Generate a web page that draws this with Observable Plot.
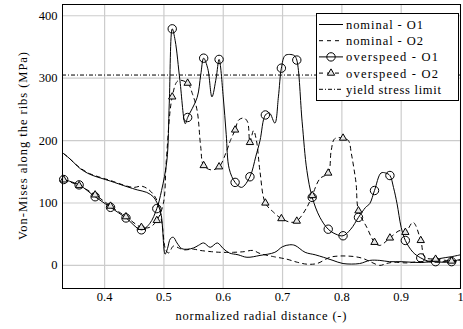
<!DOCTYPE html>
<html><head><meta charset="utf-8">
<script src="https://cdn.jsdelivr.net/npm/d3@7"></script>
<script src="https://cdn.jsdelivr.net/npm/@observablehq/plot@0.6"></script>
<style>body{margin:0;background:#fff}</style>
</head><body><div id="chart"></div>
<script>
// nominal - O1
const nomO1X = [0.331,0.340,0.350,0.359,0.375,0.393,0.410,0.438,0.455,0.471,0.482,0.488,0.495,0.502,0.506,0.511,0.516,0.522,0.530,0.540,0.550,0.558,0.567,0.578,0.590,0.600,0.610,0.625,0.640,0.662,0.687,0.700,0.712,0.721,0.738,0.755,0.769,0.785,0.802,0.830,0.847,0.864,0.880,0.900,0.920,0.940,0.965,0.985,1.0];
const nomO1Y = [179,172,163,155,146,140,135,126,121,117,110,101,83,18,27,43,45,36,27,26,28,32,36,29,36,27,20,17,13,16,21,30,33,32,21,17,13,8,3,3,8,8,6,6,5,5,11,14,17];
// nominal - O2
const nomO2X = [0.331,0.340,0.350,0.359,0.375,0.393,0.410,0.438,0.450,0.462,0.472,0.482,0.490,0.497,0.503,0.508,0.516,0.525,0.533,0.550,0.561,0.580,0.595,0.617,0.635,0.650,0.662,0.685,0.707,0.725,0.741,0.758,0.780,0.795,0.808,0.822,0.836,0.850,0.864,0.875,0.887,0.910,0.930,0.960,0.980,1.0];
const nomO2Y = [179,172,163,156,147,141,136,127,125,127,123,114,100,65,25,20,31,28,25,26,24,22,21,21,22,24,19,14,10,5,2,3,13,15,15,14,11,5,0,3,5,4,6,5,7,8];
// overspeed - O1
const ovO1X = [0.331,0.357,0.384,0.410,0.436,0.462,0.476,0.488,0.496,0.505,0.509,0.514,0.519,0.527,0.536,0.540,0.556,0.562,0.567,0.574,0.581,0.588,0.593,0.600,0.605,0.610,0.620,0.631,0.645,0.655,0.662,0.671,0.678,0.687,0.693,0.698,0.704,0.712,0.720,0.724,0.733,0.741,0.750,0.763,0.777,0.790,0.802,0.815,0.828,0.840,0.847,0.855,0.866,0.874,0.881,0.887,0.893,0.900,0.907,0.920,0.933,0.945,0.958,0.972,0.985,1.0];
const ovO1Y = [137.6,129,110,93,76,57,67,91,120,168,260,379,360,296,227,237,269,305,332,315,270,300,330,270,210,155,133,125,142,175,200,241,244,228,270,316,336,338,336,329,230,152,109,77,58,50,47.5,58,77,93,99,120,148,148,144,125,99,61,40,21,12,7,6,5,6,10];
// overspeed - O2
const ovO2X = [0.331,0.357,0.384,0.410,0.436,0.462,0.476,0.488,0.499,0.504,0.514,0.524,0.540,0.548,0.556,0.562,0.567,0.580,0.593,0.606,0.612,0.620,0.626,0.635,0.641,0.645,0.651,0.656,0.662,0.671,0.685,0.698,0.715,0.724,0.741,0.750,0.763,0.777,0.782,0.788,0.802,0.811,0.816,0.820,0.824,0.828,0.842,0.855,0.864,0.881,0.898,0.907,0.920,0.933,0.940,0.958,0.985,1.0];
const ovO2Y = [137,128,113,95,78,61,61,72,99,168,270,296,292,275,248,190,160,153,158,184,200,217,233,236,230,197,216,200,150,100,85,75,69,71,93,112,139,148,184,203,204,200,179,157,131,87.5,61,37,32,44,56,53,69,40,13,10,7,5];
// marker positions (x) for the overspeed series
const markerX = [0.331,0.357,0.384,0.410,0.436,0.462,0.488,0.514,0.540,0.567,0.593,0.620,0.645,0.671,0.698,0.724,0.750,0.777,0.802,0.828,0.855,0.881,0.907,0.933,0.958,0.985];
const yieldLimit = 305;
const xTicks = [0.4,0.5,0.6,0.7,0.8,0.9,1];
const yTicks = [0,100,200,300,400];
const seriesNames = ["nominal - O1","nominal - O2","overspeed - O1","overspeed - O2","yield stress limit"];
const xLabel = "normalized radial distance (-)";
const yLabel = "Von-Mises along the ribs (MPa)";

const rows = (xs, ys) => xs.map((x, i) => ({x, y: ys[i]}));
const isMark = d => markerX.some(m => Math.abs(m - d.x) < 1e-9);
const nomO1 = rows(nomO1X, nomO1Y), nomO2 = rows(nomO2X, nomO2Y);
const ovO1 = rows(ovO1X, ovO1Y), ovO2 = rows(ovO2X, ovO2Y);

const FONT = "'Liberation Serif', serif";
const gridStyle = {stroke: "#cccccc", strokeOpacity: 1, strokeWidth: 1.2};
const triSym = d3.symbolTriangle2 || d3.symbolTriangle;

const plot = Plot.plot({
  width: 463, height: 329,
  marginLeft: 62, marginRight: 3, marginTop: 4, marginBottom: 41,
  style: {fontFamily: FONT, fontSize: "12px", background: "white", color: "black"},
  x: {domain: [0.329, 1]},
  y: {domain: [-37, 418]},
  marks: [
    Plot.gridX(xTicks, gridStyle),
    Plot.gridY(yTicks, gridStyle),
    Plot.axisX(xTicks, {tickSize: 0, tickPadding: 4, label: null, fontSize: 12.5, tickFormat: d => d === 1 ? "1" : d.toFixed(1)}),
    Plot.axisY(yTicks, {tickSize: 0, tickPadding: 5, label: null, fontSize: 12.5, tickFormat: d => String(d)}),
    Plot.ruleY([yieldLimit], {stroke: "black", strokeWidth: 1, strokeDasharray: "4,2,1,2"}),
    Plot.line(nomO1, {x: "x", y: "y", curve: "catmull-rom", stroke: "black", strokeWidth: 1}),
    Plot.line(nomO2, {x: "x", y: "y", curve: "catmull-rom", stroke: "black", strokeWidth: 1, strokeDasharray: "4,4"}),
    Plot.line(ovO1, {x: "x", y: "y", curve: "catmull-rom", stroke: "black", strokeWidth: 1}),
    Plot.line(ovO2, {x: "x", y: "y", curve: "catmull-rom", stroke: "black", strokeWidth: 1, strokeDasharray: "4,4"}),
    Plot.dot(ovO1.filter(isMark), {x: "x", y: "y", r: 4.2, symbol: "circle", stroke: "black", strokeWidth: 1, fill: "none"}),
    Plot.dot(ovO2.filter(isMark), {x: "x", y: "y", r: 3.5, symbol: triSym, stroke: "black", strokeWidth: 1, fill: "#e6e6e6"}),
    Plot.frame({stroke: "black", strokeWidth: 1})
  ]
});

const svg = d3.select(plot);
const addText = (sel, len) => sel.style("font-family", FONT).style("font-size", "12.5px")
  .attr("fill", "black").attr("textLength", len).attr("lengthAdjust", "spacing");
// axis titles
addText(svg.append("text").attr("x", 261).attr("y", 320).attr("text-anchor", "middle"), 171).text(xLabel);
addText(svg.append("text").attr("transform", "translate(26.5,146) rotate(-90)").attr("text-anchor", "middle"), 188).text(yLabel);

// legend
const lg = svg.append("g");
lg.append("rect").attr("x", 316.5).attr("y", 13.5).attr("width", 142).attr("height", 87)
  .attr("fill", "white").attr("stroke", "black").attr("stroke-width", 1);
const dashes = [null, "4,4", null, "4,4", "4,2,1,2"];
const legendLen = [77, 77, 92, 92, 95];
seriesNames.forEach((name, i) => {
  const cy = 24.5 + i * 16.2;
  lg.append("line").attr("x1", 319).attr("x2", 343).attr("y1", cy).attr("y2", cy)
    .attr("stroke", "black").attr("stroke-width", 1).attr("stroke-dasharray", dashes[i]);
  if (i === 2) lg.append("circle").attr("cx", 331).attr("cy", cy).attr("r", 4.2)
    .attr("fill", "none").attr("stroke", "black");
  if (i === 3) lg.append("path").attr("transform", `translate(331,${cy})`)
    .attr("d", d3.symbol(triSym, Math.PI * 3.5 * 3.5)()).attr("fill", "#e6e6e6").attr("stroke", "black");
  addText(lg.append("text").attr("x", 346).attr("y", cy + 4.5).attr("text-anchor", "start"), legendLen[i]).text(name);
});

document.getElementById("chart").appendChild(plot);
</script>
</body></html>
